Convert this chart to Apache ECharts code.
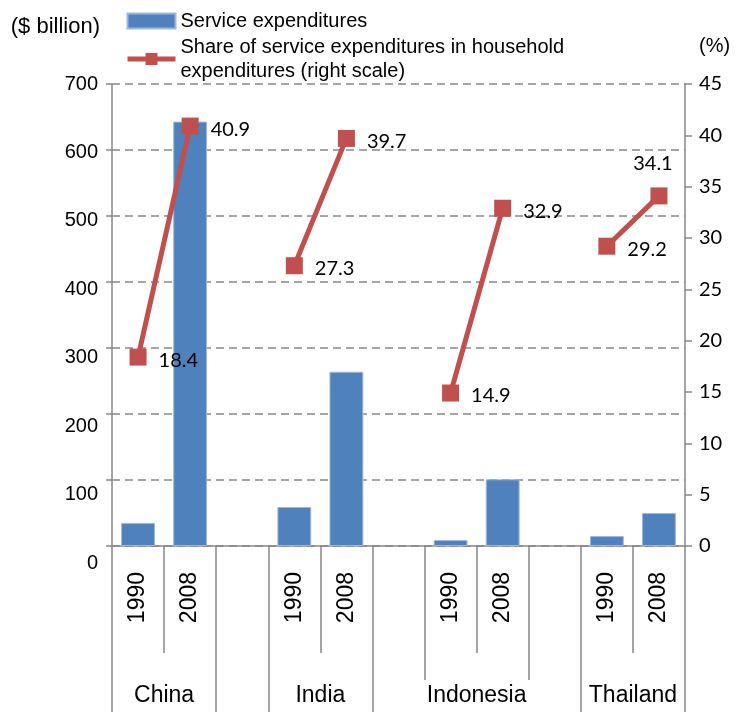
<!DOCTYPE html>
<html>
<head>
<meta charset="utf-8">
<title>Service expenditures in Asia</title>
<script src="https://cdn.jsdelivr.net/npm/echarts@6/dist/echarts.min.js"></script>
<style>
  html, body { margin: 0; padding: 0; background: #fff; }
  #chart { width: 742px; height: 712px; }
</style>
</head>
<body>
<div id="chart"></div>
<script>
// Countries and years shown on the two-level category axis
const countries = ['China', 'India', 'Indonesia', 'Thailand'];
const years = ['1990', '2008'];

// Service expenditures ($ billion)
const expenditure1990 = [35, 59, 9, 15];
const expenditure2008 = [643, 264, 101, 50];

// Share of service expenditures in household expenditures (%)
const share1990 = [18.4, 27.3, 14.9, 29.2];
const share2008 = [40.9, 39.7, 32.9, 34.1];

// Axis ticks
const leftTicks = { min: 0, max: 700, step: 100 };
const rightTicks = { min: 0, max: 45, step: 5 };

const barName = 'Service expenditures';
const lineName = 'Share of service expenditures in household\nexpenditures (right scale)';

// Build the slot layout: two years per country, an empty slot between countries
const slots = [];
const barData = [];
const lineData = [];
countries.forEach((c, i) => {
  if (i > 0) { slots.push(''); barData.push(null); lineData.push(null); }
  slots.push(years[0]); barData.push(expenditure1990[i]); lineData.push(share1990[i]);
  slots.push(years[1]); barData.push(expenditure2008[i]); lineData.push(share2008[i]);
});

// Boundary positions between slots (slots.length + 1 of them)
const boundaries = Array.from({ length: slots.length + 1 }, (_, i) => String(i));
// Boundary in the middle of each country's pair, where the country name sits
const midBoundary = countries.map((_, i) => i * 3 + 1);
// Boundaries at the outer edges of each country group
const outerBoundary = [];
countries.forEach((_, i) => { outerBoundary.push(i * 3, i * 3 + 2); });
const groupWithLongName = [2]; // Indonesia's label is wider than its group

const lastSlotIndex = slots.length - 1;
const gray = '#888888';
const sans = '"Liberation Sans", Arial, sans-serif';
const calibriLike = 'Lato, "Open Sans", sans-serif';

const chart = echarts.init(document.getElementById('chart'));

function boundaryAxis(indices, length, extra) {
  return Object.assign({
    type: 'category',
    gridIndex: 0,
    position: 'bottom',
    data: boundaries,
    boundaryGap: false,
    axisLine: { show: false },
    axisTick: {
      show: true,
      length: length,
      interval: (idx) => indices.includes(idx),
      lineStyle: { color: gray, width: 1.5 }
    },
    axisLabel: { show: false },
    splitLine: { show: false }
  }, extra || {});
}

const fullEdges = outerBoundary.filter((b) => !groupWithLongName.some((g) => b === g * 3 || b === g * 3 + 2));
const mediumEdges = outerBoundary.filter((b) => !fullEdges.includes(b));

chart.setOption({
  animation: false,
  grid: [
    // plotting area
    { left: 112, right: 57, top: 84, bottom: 166, containLabel: false },
    // the left-hand value labels sit on a slightly taller span than the gridlines
    { left: 112, right: 57, top: 84, bottom: 149, containLabel: false }
  ],
  legend: {
    orient: 'vertical',
    left: 120,
    top: 4,
    itemGap: 2,
    itemWidth: 48,
    itemHeight: 15,
    lineStyle: { width: 5 },
    textStyle: { fontFamily: sans, fontSize: 20, color: '#000', lineHeight: 24 },
    data: [
      { name: barName, icon: 'rect' },
      { name: lineName }
    ]
  },
  xAxis: [
    {
      type: 'category',
      gridIndex: 0,
      position: 'bottom',
      data: slots,
      axisLine: { show: true, lineStyle: { color: gray, width: 1.5 } },
      axisTick: { show: false },
      axisLabel: {
        interval: 0,
        rotate: 90,
        margin: 26,
        fontFamily: sans,
        fontSize: 23,
        color: '#000'
      },
      splitLine: { show: false }
    },
    boundaryAxis(midBoundary, 107, {
      axisLabel: {
        show: true,
        interval: (idx) => midBoundary.includes(idx),
        margin: 138,
        fontFamily: sans,
        fontSize: 23,
        color: '#000',
        formatter: (v) => {
          const k = midBoundary.indexOf(Number(v));
          return k >= 0 ? countries[k] : '';
        }
      }
    }),
    boundaryAxis(fullEdges, 166),
    boundaryAxis(mediumEdges, 134),
    { type: 'value', gridIndex: 1, show: false }
  ],
  yAxis: [
    {
      type: 'value',
      gridIndex: 0,
      position: 'left',
      min: leftTicks.min,
      max: leftTicks.max,
      interval: leftTicks.step,
      name: '($ billion)',
      nameLocation: 'end',
      nameGap: 46,
      nameTextStyle: { fontFamily: sans, fontSize: 22, color: '#000', align: 'right', padding: [0, 12, 0, 0] },
      axisLine: { show: true, lineStyle: { color: gray, width: 1.5 } },
      axisTick: { show: true, length: 6, lineStyle: { color: gray, width: 1.5 } },
      axisLabel: { show: false },
      splitLine: { show: true, lineStyle: { color: gray, width: 1.5, type: [8, 5] } }
    },
    {
      type: 'value',
      gridIndex: 0,
      position: 'right',
      min: rightTicks.min,
      max: rightTicks.max,
      interval: rightTicks.step,
      name: '(%)',
      nameLocation: 'end',
      nameGap: 28,
      nameTextStyle: { fontFamily: sans, fontSize: 20, color: '#000', align: 'left', padding: [0, 0, 0, 14] },
      axisLine: { show: true, lineStyle: { color: gray, width: 1.5 } },
      axisTick: { show: true, length: 7, lineStyle: { color: gray, width: 1.5 } },
      axisLabel: { margin: 14, fontFamily: calibriLike, fontSize: 20, color: '#000' },
      splitLine: { show: false }
    },
    {
      // tick labels for the $ billion scale
      type: 'value',
      gridIndex: 1,
      position: 'left',
      min: leftTicks.min,
      max: leftTicks.max,
      interval: leftTicks.step,
      axisLine: { show: false },
      axisTick: { show: false },
      splitLine: { show: false },
      axisLabel: { margin: 14, fontFamily: sans, fontSize: 20, color: '#000' }
    }
  ],
  series: [
    {
      name: barName,
      type: 'bar',
      xAxisIndex: 0,
      yAxisIndex: 0,
      barWidth: '65%',
      data: barData,
      itemStyle: { color: '#4F81BD', borderColor: '#9DB8DC', borderWidth: 1 }
    },
    {
      name: lineName,
      type: 'line',
      xAxisIndex: 0,
      yAxisIndex: 1,
      data: lineData.map((v, i) => (i === lastSlotIndex
        ? { value: v, label: { position: 'top', distance: 12, offset: [-6, -2] } }
        : v)),
      connectNulls: false,
      symbol: 'rect',
      symbolSize: 17,
      lineStyle: { color: '#C0504D', width: 5 },
      itemStyle: { color: '#C0504D' },
      label: {
        show: true,
        position: 'right',
        distance: 12,
        offset: [0, 3],
        fontFamily: calibriLike,
        fontSize: 20,
        color: '#000',
        formatter: (p) => p.value.toFixed(1)
      }
    }
  ]
});
</script>
</body>
</html>
